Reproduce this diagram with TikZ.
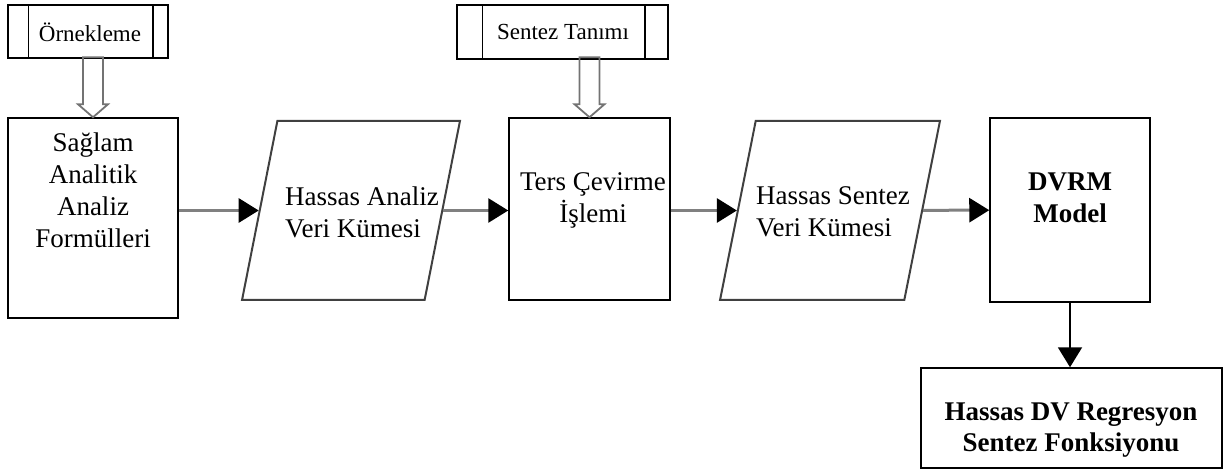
\documentclass[tikz,border=0pt]{standalone}
\usepackage{fontspec}
\setmainfont{Liberation Serif}
\usepackage{tikz}
\usetikzlibrary{shapes.geometric,arrows.meta}
\tikzstyle{box}=[
        draw=black,
        line width=1.5pt
]
\tikzstyle{subr}=[
        draw=black,
        line width=1.5pt
]
\tikzstyle{data}=[
        draw=black!75,
        line width=2pt,
        trapezium,
        trapezium left angle=76.5,
        trapezium right angle=103.5,
        trapezium stretches=true
]
\tikzstyle{flow}=[
        draw=black!50,
        line width=3pt,
        -{Triangle[length=20pt,width=24pt,color=black]}
]
\tikzstyle{down}=[
        draw=black,
        line width=2pt,
        -{Triangle[length=20pt,width=24pt,color=black]}
]
\tikzstyle{hollow}=[
        draw=black!55,
        line width=1.8pt
]
\tikzstyle{txt}=[
        align=center,
        inner sep=0pt,
        font=\fontsize{27}{32}\selectfont
]
\tikzstyle{smalltxt}=[
        inner sep=0pt,
        font=\fontsize{23}{27}\selectfont
]
% inner bars of a predefined process box
\newcommand{\subbars}[3]{
        \draw[line width=1.5pt] ([xshift=#2pt]#1.north west) -- ([xshift=#2pt]#1.south west);
        \draw[line width=1.5pt] ([xshift=-#3pt]#1.north east) -- ([xshift=-#3pt]#1.south east);
}
% wide open arrow pointing down onto a node
\newcommand{\hollowdown}[1]{
        \draw[hollow] (#1) -- ++(-15,-13) -- ++(5,0) -- ++(0,-47) -- ++(20,0)
                -- ++(0,47) -- ++(5,0) -- cycle;
}

\begin{document}
\begin{tikzpicture}[x=1pt,y=-1pt]
                        \useasboundingbox (0,0) rectangle (1229,470);

                        % input boxes
                        \node[subr, minimum width=160pt, minimum height=53pt] (s1) at (88,31.5) {};
                        \subbars{s1}{21}{16}
                        \node[smalltxt] (s1t) at (90,32) {Örnekleme};

                        \node[subr, minimum width=211pt, minimum height=54pt] (s2) at (562.5,32) {};
                        \subbars{s2}{26}{24}
                        \node[smalltxt] (s2t) at (563,32) {Sentez Tanımı};

                        % process chain
                        \node[box, minimum width=170pt, minimum height=200pt] (b1) at (93,218) {};
                        \node[txt] (b1t) at (93,190) {Sağlam\\Analitik\\Analiz\\Formülleri};

                        \node[data, minimum width=218pt, minimum height=179pt] (pa1) at (351,210.5) {};
                        \node[txt, align=left] (pa1t) at (362,212) {Hassas Analiz\\Veri Kümesi};

                        \node[box, minimum width=161pt, minimum height=182pt] (b2) at (589.5,209) {};
                        \node[txt] (b2t) at (593,200) {Ters Çevirme\\İşlemi};

                        \node[data, minimum width=220pt, minimum height=179pt] (pa2) at (830,210.5) {};
                        \node[txt, align=left] (pa2t) at (833,212) {Hassas Sentez\\Veri Kümesi};

                        \node[box, minimum width=160pt, minimum height=184pt] (b3) at (1070,210) {};
                        \node[txt, font=\fontsize{27}{32}\selectfont\bfseries] (b3t) at (1070,198) {DVRM\\Model};

                        \node[box, minimum width=301pt, minimum height=100pt] (b4) at (1071.5,418) {};
                        \node[txt, font=\fontsize{27}{31}\selectfont\bfseries] (b4t) at (1071,430) {Hassas DV Regresyon\\Sentez Fonksiyonu};

                        \hollowdown{b1.north}
                        \hollowdown{b2.north}

                        \draw[flow] (b1.east |- pa1) -- (pa1);
                        \draw[flow] (pa1) -- (b2.west |- pa1);
                        \draw[flow] (b2.east |- pa2) -- (pa2);
                        \draw[flow] (pa2) -- (b3);
                        \draw[down] (b3) -- (b3 |- b4.north);

                    \end{tikzpicture}
\end{document}
